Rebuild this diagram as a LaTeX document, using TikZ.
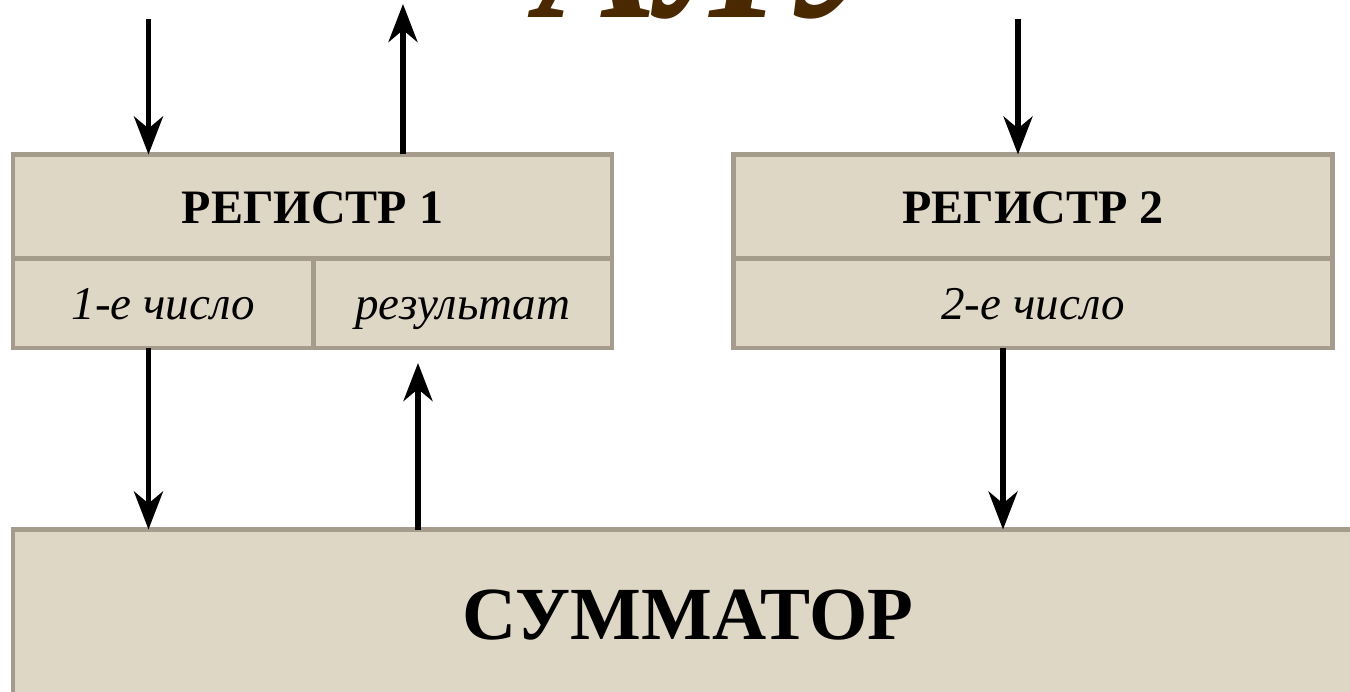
\documentclass[tikz,border=0pt]{standalone}
\usepackage{fontspec}
\setmainfont{Liberation Serif}
\usetikzlibrary{arrows.meta}
\definecolor{cellfill}{HTML}{DFD7C5}
\definecolor{cellline}{HTML}{A69C8E}
\definecolor{titlebrown}{HTML}{4A2800}
\begin{document}
\begin{tikzpicture}[x=1pt,y=-1pt,
  cell/.style={draw=cellline, fill=cellfill, line width=4.5pt, inner sep=0pt, outer sep=0pt, rectangle, align=center},
  headcell/.style={cell, minimum width=599pt, minimum height=104pt, font=\bfseries\fontsize{48}{50}\selectfont, text height=35pt, text depth=0pt},
  datacell/.style={cell, minimum height=89.5pt, font=\itshape\fontsize{47}{50}\selectfont, text height=33.5pt, text depth=0pt},
  arr/.style={line width=5.5pt, -{Stealth[length=38pt,width=29pt,inset=12pt]}}]
\useasboundingbox (0,0) rectangle (1350,692);
\fill[white] (0,0) rectangle (1350,692);
% title (mostly above the frame)
\node[anchor=base, text=titlebrown, font=\bfseries\itshape\fontsize{180}{180}\selectfont, inner sep=0pt] (title) at (722,17.5) {АЛУ};
% register 1
\node[headcell] (r1top) at (312.5,206.5) {РЕГИСТР 1};
\node[datacell, minimum width=300.5pt] (r1a) at (163.25,303.25) {1-е число};
\node[datacell, minimum width=298.5pt] (r1b) at (462.75,303.25) {результат};
% register 2
\node[headcell] (r2top) at (1033,206.5) {РЕГИСТР 2};
\node[datacell, minimum width=599pt] (r2a) at (1033,303.25) {2-е число};
% adder
\node[cell, minimum width=1350pt, minimum height=190.5pt, font=\bfseries\fontsize{75}{78}\selectfont, text height=28.5pt, text depth=0pt] (sum) at (688,624.75) {СУММАТОР};
% free ends
\coordinate (in1) at (148.5,19);
\coordinate (out1) at (403,4);
\coordinate (in2) at (1018,19);
\coordinate (res) at (418,363);
\coordinate (c2) at (1003,0);
% connectors
\draw[arr] (in1) -- (in1 |- r1top.north);
\draw[arr] (out1 |- r1top.north) -- (out1);
\draw[arr] (in2) -- (in2 |- r2top.north);
\draw[arr] (in1 |- r1a.south) -- (in1 |- sum.north);
\draw[arr] (res |- sum.north) -- (res);
\draw[arr] (c2 |- r2a.south) -- (c2 |- sum.north);
\end{tikzpicture}
\end{document}
